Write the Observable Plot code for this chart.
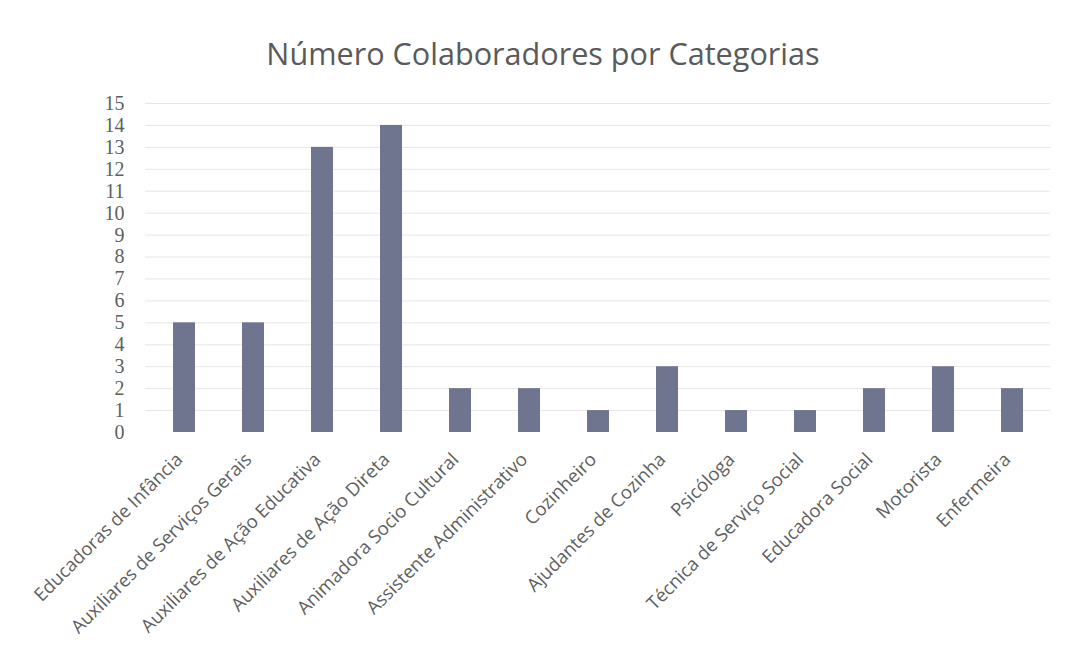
<!DOCTYPE html>
<html>
<head>
<meta charset="utf-8">
<script src="https://cdn.jsdelivr.net/npm/d3@7"></script>
<script src="https://cdn.jsdelivr.net/npm/@observablehq/plot@0.6"></script>
<style>
  body { margin: 0; background: #fff; }
  #title { height: 90px; width: 1072px; box-sizing: border-box; padding-top: 33px; padding-left: 14px; text-align: center;
    font-family: "Open Sans", sans-serif; font-size: 30.6px; color: #5a5a5a; line-height: 40px; }
</style>
</head>
<body>
<div id="title">Número Colaboradores por Categorias</div>
<div id="chart"></div>
<script>
const categories = [
  "Educadoras de Infância",
  "Auxiliares de Serviços Gerais",
  "Auxiliares de Ação Educativa",
  "Auxiliares de Ação Direta",
  "Animadora Socio Cultural",
  "Assistente Administrativo",
  "Cozinheiro",
  "Ajudantes de Cozinha",
  "Psicóloga",
  "Técnica de Serviço Social",
  "Educadora Social",
  "Motorista",
  "Enfermeira"
];
const counts = [5, 5, 13, 14, 2, 2, 1, 3, 1, 1, 2, 3, 2];
const yTicks = [0, 1, 2, 3, 4, 5, 6, 7, 8, 9, 10, 11, 12, 13, 14, 15];

const data = categories.map((c, i) => ({category: c, value: counts[i]}));

const chart = Plot.plot({
  width: 1072,
  height: 574,
  marginTop: 13,
  marginBottom: 232,
  marginLeft: 145,
  marginRight: 22,
  style: {background: "#fff", color: "#595959"},
  x: {domain: categories, paddingInner: 0.684, paddingOuter: 0.342, label: null},
  y: {domain: [0, 15], label: null},
  marks: [
    Plot.ruleY(yTicks.slice(1), {stroke: "#e6e6e6", strokeWidth: 1}),
    Plot.barY(data, {x: "category", y: "value", fill: "#6f758f"}),
    Plot.axisY({ticks: yTicks, tickSize: 0, tickPadding: 21, fontFamily: "Liberation Serif, DejaVu Serif, serif", fontSize: 20, fill: "#5f5f5f", label: null}),
    Plot.axisX({tickSize: 0, tickRotate: -45, tickPadding: 24, dx: -5, fontFamily: "Open Sans, sans-serif", fontSize: 18.5, fill: "#5f5f5f", label: null})
  ]
});
document.getElementById("chart").appendChild(chart);
</script>
</body>
</html>
